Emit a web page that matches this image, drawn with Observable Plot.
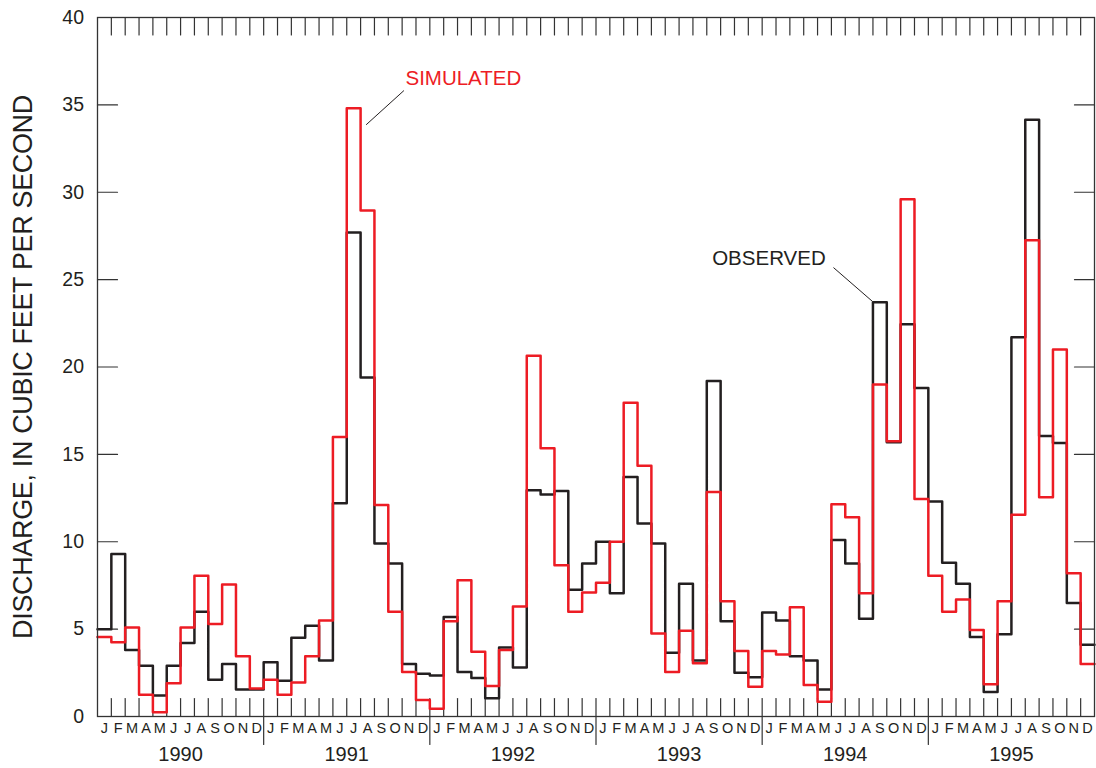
<!DOCTYPE html>
<html>
<head>
<meta charset="utf-8">
<script src="https://cdn.jsdelivr.net/npm/d3@7"></script>
<script src="https://cdn.jsdelivr.net/npm/@observablehq/plot@0.6"></script>
<style>
  html, body { margin: 0; padding: 0; background: #fff; }
  #chart svg { display: block; }
</style>
</head>
<body>
<div id="chart"></div>
<script>
// ---- Data ----
const monthLabels = ["J","F","M","A","M","J","J","A","S","O","N","D"];
const years = [1990, 1991, 1992, 1993, 1994, 1995];
const yTicks = [0, 5, 10, 15, 20, 25, 30, 35, 40];

// Monthly mean discharge, Jan 1990 – Dec 1995 (cubic feet per second)
const observed = [
  5.0, 9.3, 3.8, 2.9, 1.2, 2.9, 4.2, 6.0, 2.1, 3.0, 1.55, 1.55,
  3.1, 2.05, 4.5, 5.2, 3.2, 12.2, 27.7, 19.4, 9.9, 8.75, 3.0, 2.45,
  2.35, 5.7, 2.55, 2.2, 1.05, 3.95, 2.8, 12.95, 12.7, 12.9, 7.25, 8.75,
  10.0, 7.05, 13.7, 11.05, 9.9, 3.65, 7.6, 3.2, 19.2, 5.45, 2.5, 2.25,
  5.95, 5.5, 3.45, 3.2, 1.55, 10.1, 8.75, 5.6, 23.7, 15.7, 22.45, 18.8,
  12.3, 8.8, 7.6, 4.55, 1.4, 4.7, 21.7, 34.15, 16.05, 15.65, 6.5, 4.1
];
const simulated = [
  4.55, 4.25, 5.1, 1.25, 0.25, 1.9, 5.1, 8.05, 5.3, 7.55, 3.45, 1.6,
  2.1, 1.25, 1.95, 3.45, 5.5, 16.0, 34.8, 28.95, 12.1, 6.0, 2.55, 0.95,
  0.45, 5.45, 7.8, 3.7, 1.75, 3.8, 6.3, 20.65, 15.35, 8.65, 6.0, 7.1,
  7.65, 10.0, 17.95, 14.35, 4.75, 2.55, 4.9, 3.05, 12.85, 6.6, 3.75, 1.7,
  3.75, 3.55, 6.25, 1.8, 0.85, 12.15, 11.4, 7.05, 19.0, 15.75, 29.6, 12.45,
  8.05, 6.0, 6.7, 4.95, 1.85, 6.6, 11.55, 27.25, 12.55, 21.0, 8.2, 3.0
];

// Annotation labels (data units: month index, discharge)
const labelNames = ["SIMULATED", "OBSERVED"];
const labelX = [22.24, 44.39];
const labelY = [36.54, 26.19];
const leaderX1 = [22.13, 53.15];
const leaderY1 = [35.82, 25.69];
const leaderX2 = [19.40, 55.97];
const leaderY2 = [33.86, 23.75];

// ---- Derived tables ----
const nMonths = observed.length;
const stepPoints = vals => [...vals.map((v, i) => ({x: i, y: v})), {x: vals.length, y: vals[vals.length - 1]}];
const obsPts = stepPoints(observed);
const simPts = stepPoints(simulated);
const boundaries = d3.range(1, nMonths);
const yearBounds = d3.range(1, years.length).map(k => k * 12);
const monthCells = d3.range(nMonths).map(i => ({i, label: monthLabels[i % 12]}));
const yearCells = years.map((y, k) => ({k, label: String(y)}));
const innerY = yTicks.filter(v => v > 0 && v < 40);
const labels = labelNames.map((t, i) => ({t, x: labelX[i], y: labelY[i]}));
const leaders = labelNames.map((t, i) => ({x1: leaderX1[i], y1: leaderY1[i], x2: leaderX2[i], y2: leaderY2[i]}));

const RED = "#ed1c24", BLACK = "#231f20", AXIS = "#333";
const tickShape = {draw(ctx, l) { ctx.moveTo(0, 0); ctx.lineTo(0, -l); }};
const tickOpts = {anchor: "start", shape: tickShape, stroke: AXIS, strokeWidth: 1.2};

const chart = Plot.plot({
  width: 1096,
  height: 768,
  marginLeft: 97,
  marginRight: 2,
  marginTop: 17,
  marginBottom: 52,
  style: {fontFamily: "'Liberation Sans', Arial, Helvetica, sans-serif", color: "#231f20", background: "#fff"},
  x: {domain: [0, nMonths], axis: null},
  y: {domain: [0, 40], axis: null},
  marks: [
    // inward ticks
    Plot.vector(boundaries, {...tickOpts, x: d => d, y: 0, length: 18, rotate: 0}),
    Plot.vector(boundaries, {...tickOpts, x: d => d, y: 40, length: 17.5, rotate: 180}),
    Plot.vector(yearBounds, {...tickOpts, x: d => d, y: 0, length: 28, rotate: 180}),
    Plot.vector(innerY, {...tickOpts, x: 0, y: d => d, length: 20, rotate: 90}),
    Plot.vector(innerY, {...tickOpts, x: nMonths, y: d => d, length: 20, rotate: 270}),
    // series
    Plot.line(obsPts, {x: "x", y: "y", curve: "step-after", stroke: BLACK, strokeWidth: 2.5}),
    Plot.line(simPts, {x: "x", y: "y", curve: "step-after", stroke: RED, strokeWidth: 2.5}),
    Plot.frame({stroke: AXIS, strokeWidth: 1.3}),
    // y tick labels
    Plot.text(yTicks, {x: 0, y: d => d, text: d => String(d), textAnchor: "end", dx: -13.5, fontSize: 19.5, fill: BLACK}),
    // month and year labels
    Plot.text(monthCells, {x: d => d.i + 0.5, y: 0, text: "label", dy: 12.3, fontSize: 14.5, fill: BLACK}),
    Plot.text(yearCells, {x: d => d.k * 12 + 6, y: 0, text: "label", dy: 38.2, fontSize: 20, fill: BLACK}),
    // y title
    Plot.text(["DISCHARGE, IN CUBIC FEET PER SECOND"], {frameAnchor: "left", textAnchor: "middle", dx: -74.5, rotate: -90, fontSize: 27, fill: BLACK}),
    // annotations
    Plot.link(leaders, {x1: "x1", y1: "y1", x2: "x2", y2: "y2", stroke: BLACK, strokeWidth: 1}),
    Plot.text(labels, {x: "x", y: "y", text: "t", textAnchor: "start", fontSize: 20.5, fill: d => d.t === "SIMULATED" ? RED : BLACK})
  ]
});
document.getElementById("chart").appendChild(chart);
chart.querySelectorAll("text").forEach(t => {
  if (t.textContent === "DISCHARGE, IN CUBIC FEET PER SECOND") t.style.letterSpacing = "-0.35px";
});
</script>
</body>
</html>
